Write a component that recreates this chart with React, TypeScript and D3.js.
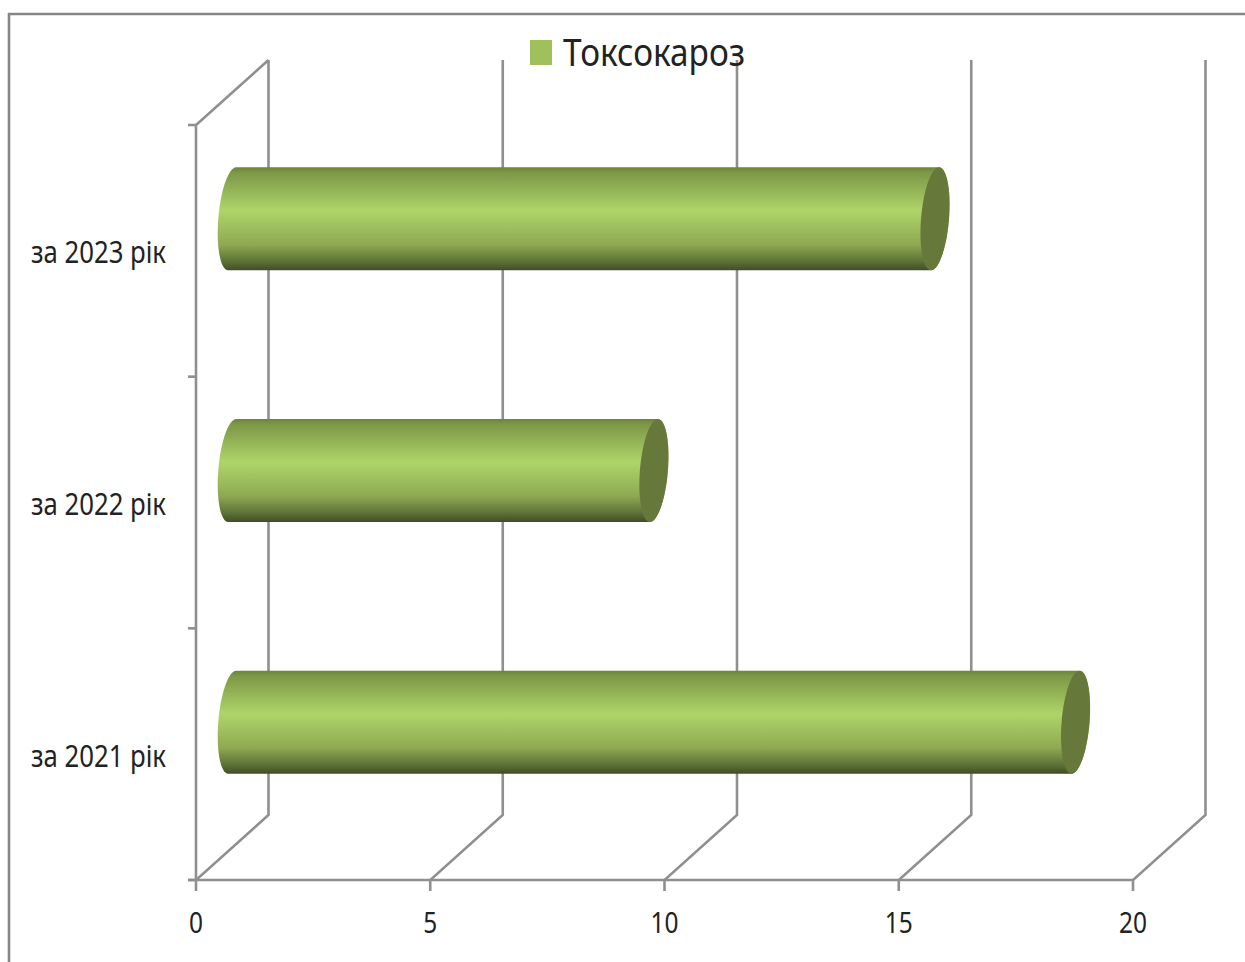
import React from "react";
import * as d3 from "d3";

// Toxocariasis case counts per year, listed bottom to top along the category axis
const categories = ["за 2021 рік", "за 2022 рік", "за 2023 рік"];
const values = [18, 9, 15];
const xTicks = [0, 5, 10, 15, 20];
const seriesName = "Токсокароз";

const WIDTH = 1245;
const HEIGHT = 962;
const FONT = "'Noto Sans', sans-serif";
const GRID = "#8f8f8f";

// Plot floor and left wall of the 3D box
const x = d3.scaleLinear().domain([0, 20]).range([196, 1133]);
const y = d3.scaleBand().domain(categories).range([880, 125]);
const DEPTH_X = 72.5;
const DEPTH_Y = 65;

const BAR_HEIGHT = 103;
const CAP_RX = 14;
const CAP_SKEW = 4;

// Point on a slanted cylinder-end ellipse
const capPoint = (cx: number, cy: number, t: number): [number, number] => {
  const s = Math.sin(t);
  return [cx + CAP_RX * Math.cos(t) - CAP_SKEW * s, cy + (BAR_HEIGHT / 2) * s];
};

const line = d3.line();

const capPath = (cx: number, cy: number) =>
  line(d3.range(0, 61).map((i) => capPoint(cx, cy, (i / 60) * 2 * Math.PI))) + "Z";

// Cylinder body: back half of the left end joined with the front half of the right end
const bodyPath = (x0: number, x1: number, cy: number) => {
  const left = d3.range(0, 31).map((i) => capPoint(x0, cy, Math.PI / 2 + (i / 30) * Math.PI));
  const right = d3.range(0, 31).map((i) => capPoint(x1, cy, -Math.PI / 2 + (i / 30) * Math.PI));
  return line([...left, ...right]) + "Z";
};

const labelWidth = 135;
const tickCharWidth = 14;

export default function App() {
  return (
    <svg
      width={WIDTH}
      height={HEIGHT}
      style={{ position: "absolute", left: 0, top: 0, display: "block", background: "#fff" }}
    >
      <defs>
        <linearGradient id="cyl" x1="0" y1="0" x2="0" y2="1">
          <stop offset="0" stopColor="#6a843c" />
          <stop offset="0.05" stopColor="#7d9747" />
          <stop offset="0.42" stopColor="#aed569" />
          <stop offset="0.75" stopColor="#8ea952" />
          <stop offset="0.92" stopColor="#5b6f35" />
          <stop offset="1" stopColor="#414c27" />
        </linearGradient>
      </defs>

      {/* chart frame */}
      <path d={`M9,${HEIGHT}V14H${WIDTH}`} fill="none" stroke="#868686" strokeWidth={2.6} />

      {/* walls, floor and gridlines */}
      <g fill="none" stroke={GRID} strokeWidth={2.6}>
        {xTicks.map((t) => (
          <path
            key={t}
            d={`M${x(t)},${y.range()[0] + 11}V${y.range()[0]}L${x(t) + DEPTH_X},${y.range()[0] - DEPTH_Y}V${y.range()[1] - DEPTH_Y}`}
          />
        ))}
        <path d={`M${x(0)},${y.range()[0]}V${y.range()[1]}L${x(0) + DEPTH_X},${y.range()[1] - DEPTH_Y}`} />
        <path d={`M${x(0) - 8},${y.range()[0]}H${x(20)}`} />
        {[...categories.map((c) => y(c)!), y.range()[0]].map((p) => (
          <path key={p} d={`M${x(0) - 8},${p}H${x(0)}`} />
        ))}
      </g>

      {/* cylinders */}
      {categories.map((c, i) => {
        const cy = y(c)! + y.bandwidth() / 2 - DEPTH_Y / 2 + 0.5;
        const x0 = x(0) + DEPTH_X / 2;
        const x1 = x(values[i]) + DEPTH_X / 2;
        return (
          <g key={c}>
            <path d={bodyPath(x0, x1, cy)} fill="url(#cyl)" />
            <path d={capPath(x1, cy)} fill="#67793a" />
          </g>
        );
      })}

      {/* category labels */}
      <g fontFamily={FONT} fontSize={31} fill="#222">
        {categories.map((c) => (
          <text
            key={c}
            x={31}
            y={y(c)! + y.bandwidth() / 2 + 12.5}
            textLength={labelWidth}
            lengthAdjust="spacingAndGlyphs"
          >
            {c}
          </text>
        ))}
      </g>

      {/* value axis labels */}
      <g fontFamily={FONT} fontSize={29} fill="#222" textAnchor="middle">
        {xTicks.map((t) => (
          <text
            key={t}
            x={x(t)}
            y={933}
            textLength={String(t).length * tickCharWidth}
            lengthAdjust="spacingAndGlyphs"
          >
            {t}
          </text>
        ))}
      </g>

      {/* legend */}
      <rect x={530} y={40} width={22} height={25} fill="#a0c05c" />
      <text
        x={563}
        y={66}
        fontFamily={FONT}
        fontSize={38}
        fill="#222"
        textLength={182}
        lengthAdjust="spacingAndGlyphs"
      >
        {seriesName}
      </text>
    </svg>
  );
}
